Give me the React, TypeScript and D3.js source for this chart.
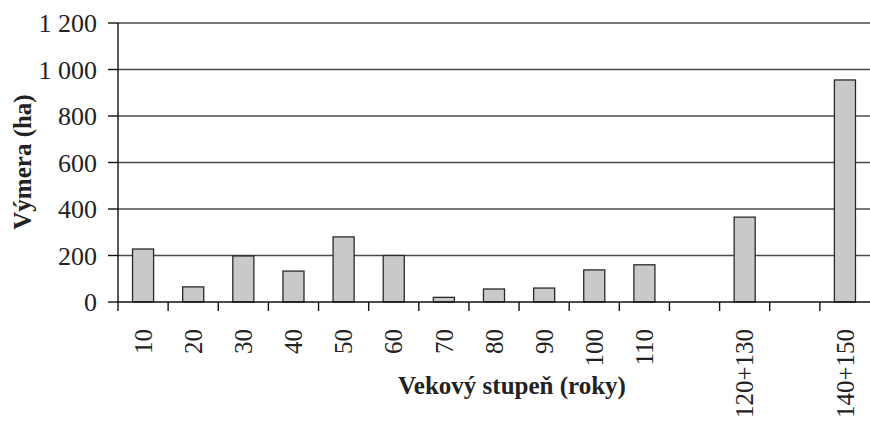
import React from 'react';
import * as d3 from 'd3';

const categories = ['10', '20', '30', '40', '50', '60', '70', '80', '90', '100', '110', '', '120+130', '', '140+150'];
const values = [228, 65, 198, 133, 280, 200, 20, 56, 60, 138, 160, null, 365, null, 955];
const yTicks = [0, 200, 400, 600, 800, 1000, 1200];
const yTickLabels = ['0', '200', '400', '600', '800', '1 000', '1 200'];

export default function App() {
  const width = 870;
  const height = 425;
  const left = 118;
  const right = 870;
  const top = 23;
  const bottom = 302;
  const font = 'Liberation Serif, Times New Roman, DejaVu Serif, serif';

  const keys = categories.map((d, i) => String(i));
  const x = d3.scaleBand().domain(keys).range([left, right]).paddingInner(0.58).paddingOuter(0.29);
  const band = d3.scaleBand().domain(keys).range([left, right]);
  const y = d3.scaleLinear().domain([0, 1200]).range([bottom, top]);

  return (
    <svg width={width} height={height} style={{ position: 'absolute', left: 0, top: 0, fontFamily: font }}>
      <rect x={0} y={0} width={width} height={height} fill='#ffffff' />

      {/* grid lines */}
      {yTicks.filter(t => t > 0).map(t => (
        <line key={t} x1={left} x2={right} y1={y(t)} y2={y(t)} stroke='#4a4a4a' strokeWidth={1.4} />
      ))}

      {/* bars */}
      {values.map((v, i) => v == null ? null : (
        <rect
          key={i}
          x={x(String(i))}
          y={y(v)}
          width={x.bandwidth()}
          height={bottom - y(v)}
          fill='#c8c9cb'
          stroke='#2a2a2a'
          strokeWidth={1.3}
        />
      ))}

      {/* y axis */}
      <line x1={left} x2={left} y1={top} y2={bottom} stroke='#111' strokeWidth={1.4} />
      {yTicks.map((t, i) => (
        <g key={t}>
          <line x1={left - 10} x2={left} y1={y(t)} y2={y(t)} stroke='#111' strokeWidth={1.4} />
          <text x={97} y={y(t)} dy='0.35em' textAnchor='end' fontSize={26} fill='#222'>
            {yTickLabels[i]}
          </text>
        </g>
      ))}

      {/* x axis */}
      <line x1={left} x2={right} y1={bottom} y2={bottom} stroke='#111' strokeWidth={1.4} />
      {keys.map(k => (
        <line key={k} x1={band(k)} x2={band(k)} y1={bottom} y2={bottom + 9} stroke='#111' strokeWidth={1.4} />
      ))}
      {categories.map((c, i) => c === '' ? null : (
        <text
          key={i}
          transform={`translate(${band(String(i))! + band.bandwidth() / 2},${329}) rotate(-90)`}
          dy='0.35em'
          textAnchor='end'
          fontSize={25}
          fill='#222'
        >
          {c}
        </text>
      ))}

      {/* titles */}
      <text
        transform={`translate(${22},${162}) rotate(-90)`}
        dy='0.35em'
        textAnchor='middle'
        fontSize={25}
        fontWeight='bold'
        fill='#222'
      >
        Výmera (ha)
      </text>
      <text x={512} y={394} textAnchor='middle' fontSize={25} fontWeight='bold' fill='#222'>
        Vekový stupeň (roky)
      </text>
    </svg>
  );
}
